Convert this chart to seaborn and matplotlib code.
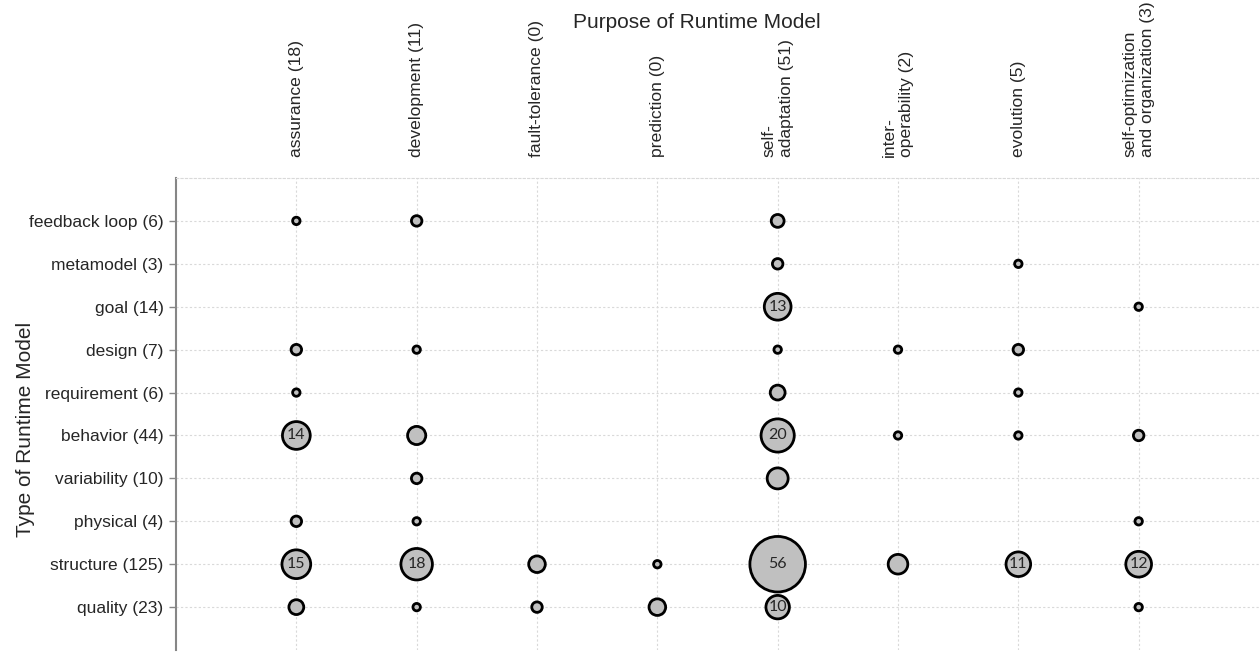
import seaborn as sns
import matplotlib.pyplot as plt
import pandas as pd

types = ['feedback loop (6)', 'metamodel (3)', 'goal (14)', 'design (7)', 'requirement (6)',
         'behavior (44)', 'variability (10)', 'physical (4)', 'structure (125)', 'quality (23)']
purposes = ['assurance (18)', 'development (11)', 'fault-tolerance (0)', 'prediction (0)',
            'self-\nadaptation (51)', 'inter-\noperability (2)', 'evolution (5)',
            'self-optimization\nand organization (3)']

# number of papers per type of runtime model, one list per purpose (0 = no bubble)
assurance = [1, 0, 0, 2, 1, 14, 0, 2, 15, 4]
development = [2, 0, 0, 1, 0, 6, 2, 1, 18, 1]
fault_tolerance = [0, 0, 0, 0, 0, 0, 0, 0, 5, 2]
prediction = [0, 0, 0, 0, 0, 0, 0, 0, 1, 5]
self_adaptation = [3, 2, 13, 1, 4, 20, 8, 0, 56, 10]
interoperability = [0, 0, 0, 1, 0, 1, 0, 0, 7, 0]
evolution = [0, 1, 0, 2, 1, 1, 0, 0, 11, 0]
self_optimization = [0, 0, 1, 0, 0, 2, 0, 1, 12, 1]

columns = [assurance, development, fault_tolerance, prediction,
           self_adaptation, interoperability, evolution, self_optimization]

rows = []
for px, col in enumerate(columns):
    for ty, n in enumerate(col):
        if n > 0:
            rows.append({'px': px, 'ty': ty, 'count': n})
df = pd.DataFrame(rows)

sns.set_style('white')
plt.rcParams['font.family'] = ['Liberation Sans', 'DejaVu Sans']

fig = plt.figure(figsize=(12.59, 6.52), dpi=100)
ax = fig.add_axes([176 / 1259, 0.003, 1 - 176 / 1259, 1 - 178 / 652 - 0.003])

sns.scatterplot(data=df, x='px', y='ty', size='count', sizes=(0, 1600), size_norm=(0, 56),
                color='#c0c0c0', edgecolor='black', linewidth=2, legend=False,
                ax=ax, zorder=3)

# value labels inside the bigger bubbles
for _, r in df.iterrows():
    if r['count'] >= 10:
        ax.text(r['px'], r['ty'], str(r['count']), ha='center', va='center',
                fontsize=11.5, family='Lato', color='#262626', zorder=4)

ax.set_xlim(-1, 8)
ax.set_ylim(10, -1)
ax.set_xticks(range(len(purposes)))
ax.set_xticklabels(purposes)
ax.set_yticks(range(len(types)))
ax.set_yticklabels(types)

ax.xaxis.tick_top()
ax.tick_params(axis='x', length=0, pad=15, labelrotation=90, labelsize=12.6)
ax.tick_params(axis='y', left=True, length=5, width=1, color='#868686', pad=4, labelsize=12.5)
for lbl in ax.get_xticklabels():
    lbl.set_multialignment('left')

ax.grid(True, color='#d9d9d9', linestyle=(0, (2, 2)), linewidth=0.8, zorder=0)
ax.set_axisbelow(True)

for side in ['right', 'bottom']:
    ax.spines[side].set_visible(False)
ax.spines['top'].set_color('#d9d9d9')
ax.spines['top'].set_linestyle((0, (2, 2)))
ax.spines['top'].set_linewidth(0.8)
ax.spines['left'].set_color('#868686')
ax.spines['left'].set_linewidth(1.5)

ax.set_xlabel('Purpose of Runtime Model', fontsize=15)
ax.xaxis.set_label_position('top')
ax.xaxis.set_label_coords(0.481, 1.317)
ax.set_ylabel('Type of Runtime Model', fontsize=15)
ax.yaxis.set_label_coords(-0.130, 0.468)

fig.savefig('out.png', dpi=100)
